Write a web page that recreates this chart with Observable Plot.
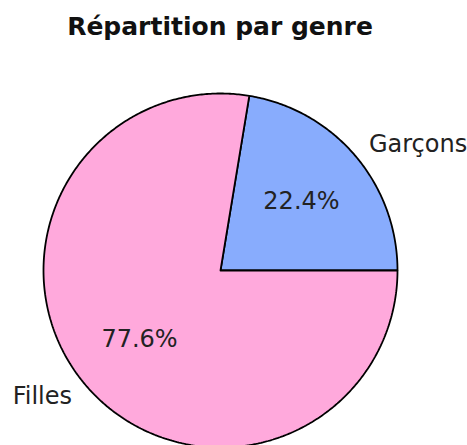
<!DOCTYPE html>
<html>
<head>
<meta charset="utf-8">
<script src="https://cdn.jsdelivr.net/npm/d3@7"></script>
<script src="https://cdn.jsdelivr.net/npm/@observablehq/plot@0.6"></script>
<style>
  html, body { margin: 0; padding: 0; background: #fff; }
  #wrap { width: 467px; height: 445px; overflow: hidden; font-family: "DejaVu Sans", sans-serif; }
  #title { width: 440px; height: 54px; line-height: 54px; text-align: center; font-weight: bold; font-size: 25px; color: #111; }
</style>
</head>
<body>
<div id="wrap">
  <div id="title">Répartition par genre</div>
  <div id="chart"></div>
</div>
<script>
const genres = ["Garçons", "Filles"];
const percents = [22.4, 77.6];
const colors = ["#88acfd", "#ffa9dc"];

// pie geometry (matplotlib style: start at 0°, counter-clockwise)
const total = d3.sum(percents);
let start = 0;
const slices = genres.map((g, i) => {
  const a0 = start;
  const a1 = start + (percents[i] / total) * 2 * Math.PI;
  start = a1;
  return {genre: g, pct: percents[i], a0, a1, mid: (a0 + a1) / 2};
});

const outline = [];
for (const s of slices) {
  outline.push({genre: s.genre, x: 0, y: 0});
  const n = Math.max(2, Math.ceil((s.a1 - s.a0) / 0.01));
  for (let k = 0; k <= n; k++) {
    const a = s.a0 + (s.a1 - s.a0) * k / n;
    outline.push({genre: s.genre, x: Math.cos(a), y: Math.sin(a)});
  }
  outline.push({genre: s.genre, x: 0, y: 0});
}

const R = 177, W = 467, H = 391, cx = 220, cy = 216;

const chart = Plot.plot({
  width: W,
  height: H,
  margin: 0,
  style: {fontFamily: "DejaVu Sans, sans-serif", background: "white", overflow: "hidden"},
  x: {domain: [-cx / R, (W - cx) / R], range: [0, W], axis: null},
  y: {domain: [-(H - cy) / R, cy / R], range: [H, 0], axis: null},
  color: {domain: genres, range: colors},
  marks: [
    Plot.line(outline, {x: "x", y: "y", z: "genre", fill: "genre", stroke: "black", strokeWidth: 1.8, strokeLinejoin: "miter"}),
    Plot.text(slices.filter(s => Math.cos(s.mid) >= 0), {
      x: s => 1.1 * Math.cos(s.mid), y: s => 1.1 * Math.sin(s.mid), text: "genre",
      textAnchor: "start", fontSize: 24, fill: "#222"
    }),
    Plot.text(slices.filter(s => Math.cos(s.mid) < 0), {
      x: s => 1.1 * Math.cos(s.mid), y: s => 1.1 * Math.sin(s.mid), text: "genre",
      textAnchor: "end", fontSize: 24, fill: "#222"
    }),
    Plot.text(slices, {
      x: s => 0.6 * Math.cos(s.mid), y: s => 0.6 * Math.sin(s.mid),
      text: s => s.pct.toFixed(1) + "%", textAnchor: "middle", fontSize: 24, fill: "#222"
    })
  ]
});
document.getElementById("chart").appendChild(chart);
</script>
</body>
</html>
